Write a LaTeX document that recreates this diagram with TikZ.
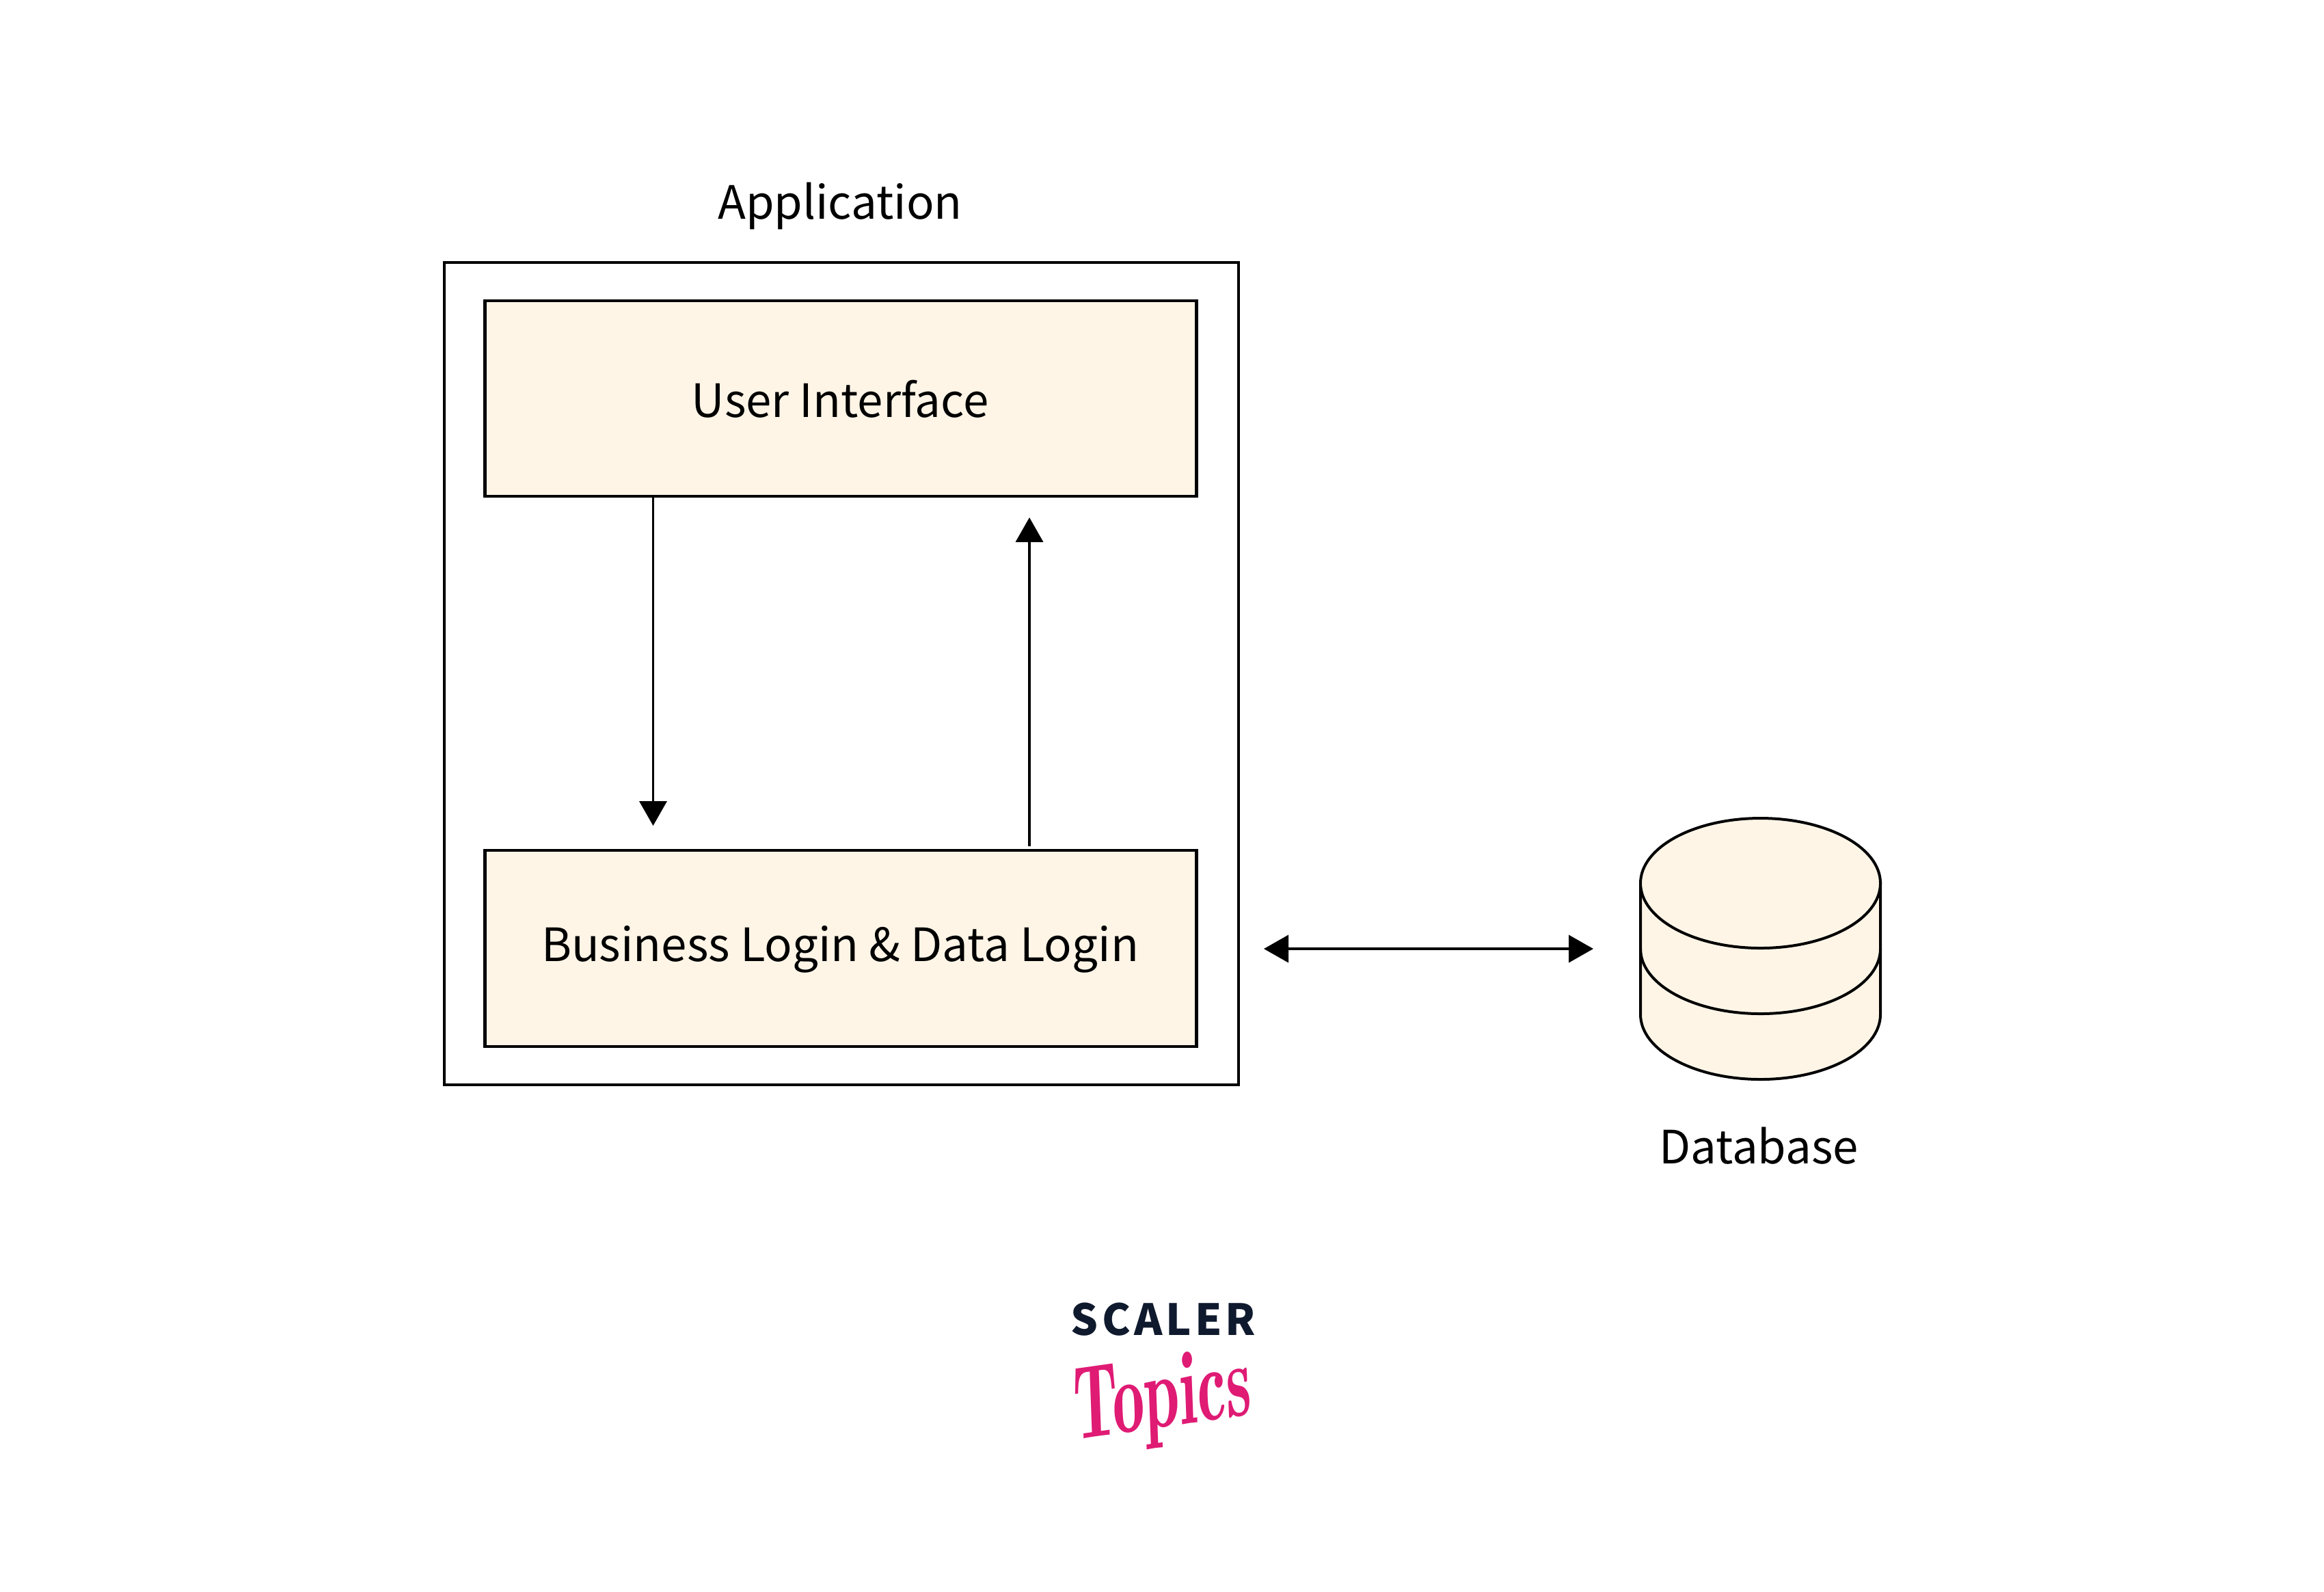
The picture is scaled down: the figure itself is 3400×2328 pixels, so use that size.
\documentclass[tikz,border=0pt]{standalone}
\usepackage{fontspec}
\setmainfont{Noto Sans CJK SC}
\newfontfamily\logofont{Noto Sans CJK SC}
\usetikzlibrary{arrows.meta,positioning}
\definecolor{cream}{HTML}{FEF5E7}
\definecolor{navy}{HTML}{0F1A2E}
\definecolor{brandpink}{HTML}{DF1B74}
\tikzset{
  px/.style={x=0.25pt,y=-0.25pt},
  box/.style={draw=black,line width=1.1pt,fill=cream,rectangle,inner sep=0pt},
  outerbox/.style={draw=black,line width=1.1pt,fill=white,rectangle,inner sep=0pt},
  lbl/.style={font=\fontsize{16.8pt}{20pt}\selectfont,anchor=base,inner sep=0pt,text=black},
  conn/.style={draw=black,line width=0.9pt,-{Triangle[length=9pt,width=10pt]}},
  conn2/.style={draw=black,line width=0.9pt,{Triangle[length=9pt,width=10pt]}-{Triangle[length=9pt,width=10pt]}},
  dbline/.style={draw=black,line width=1pt,fill=cream},
}
\begin{document}
\begin{tikzpicture}[px]
\useasboundingbox (0,0) rectangle (3400,2328);
\fill[white] (0,0) rectangle (3400,2328);
\node[outerbox,minimum width=290.5pt,minimum height=300.75pt] (app) at (1231,985.5) {};
\node[box,minimum width=260.25pt,minimum height=71.5pt] (ui) at (1230,583) {};
\node[box,minimum width=260.25pt,minimum height=71.75pt] (biz) at (1230,1387.5) {};
\node[lbl] (tapp) at (1229,320) {Application};
\node[lbl] (tui) at (1229,610) {User Interface};
\node[lbl] (tbiz) at (1229,1406) {Business Login \& Data Login};
% connectors
\coordinate (downend) at (955.5,1208);
\coordinate (upstart) at (1506,1238);
\coordinate (upend) at (1506,757);
\draw[conn] (ui.south -| downend) -- (downend);
\draw[conn] (upstart) -- (upend);
\coordinate (hl) at (1849,1388);
\coordinate (hr) at (2331,1388);
\draw[conn2] (hl) -- (hr);
% database
\coordinate (db) at (2575.5,1292);
\path[dbline] (2400,1292) -- (2400,1484) arc[start angle=180,end angle=0,x radius=175.5,y radius=95] -- (2751,1292) -- cycle;
\draw[dbline,fill=none] (2400,1388) arc[start angle=180,end angle=0,x radius=175.5,y radius=95];
\draw[dbline] (db) ellipse[x radius=175.5,y radius=95];
\node[lbl] (tdb) at (2573,1702) {Database};
% logo
\node[anchor=base,inner sep=0pt,text=navy,font=\logofont\bfseries\fontsize{15.7pt}{18pt}\selectfont\addfontfeature{LetterSpace=8}] (scaler) at (1702,1953) {SCALER};
\node[anchor=base,inner sep=0pt,text=brandpink,rotate=8,font=\fontfamily{lmr}\bfseries\itshape\fontsize{38pt}{40pt}\selectfont] (topics) at (1702,2088) {\scalebox{0.62}[1]{Topics}};
\end{tikzpicture}
\end{document}
